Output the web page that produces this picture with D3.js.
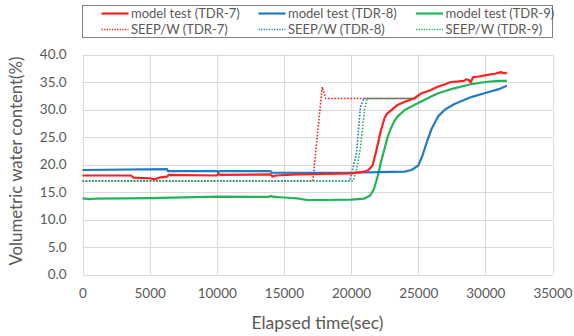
<!DOCTYPE html>
<html>
<head>
<meta charset="utf-8">
<script src="https://cdn.jsdelivr.net/npm/d3@7/dist/d3.min.js"></script>
<style>
  html, body { margin: 0; padding: 0; background: #fff; }
  svg { display: block; font-family: Lato, "Open Sans", sans-serif; }
</style>
</head>
<body>
<svg id="chart" width="574" height="336"></svg>
<script>
// ---- data ----
const xTicks = [0, 5000, 10000, 15000, 20000, 25000, 30000, 35000];
const yTicks = [0, 5, 10, 15, 20, 25, 30, 35, 40];

const tdr7Time = [0, 3600, 3800, 5000, 5400, 5700, 6300, 6400, 10000, 10100, 10300, 14000, 14150, 14400, 16000, 18000, 20000, 21000, 21300, 21600, 21830, 22200, 22500, 22700, 23450, 24000, 24700, 25200, 25900, 26400, 27000, 27430, 28000, 28400, 28600, 28800, 28900, 29100, 29500, 30160, 30700, 31160, 31400, 31600];
const tdr7Value = [18.0, 18.0, 17.6, 17.5, 17.3, 17.6, 17.8, 18.1, 18.0, 18.3, 18.1, 18.2, 17.8, 18.0, 18.2, 18.3, 18.4, 18.7, 19.0, 19.8, 22.0, 26.0, 28.5, 29.3, 30.8, 31.4, 32.0, 32.9, 33.5, 34.1, 34.6, 35.0, 35.1, 35.2, 35.5, 35.3, 34.9, 35.9, 36.0, 36.3, 36.5, 36.8, 36.6, 36.6];

const tdr8Time = [0, 6300, 6350, 10000, 10100, 10200, 14000, 14100, 20000, 22000, 24000, 24500, 25000, 25300, 25700, 26000, 26500, 27000, 27700, 28500, 29000, 30000, 31000, 31600];
const tdr8Value = [19.0, 19.15, 18.8, 18.8, 18.6, 18.8, 18.8, 18.5, 18.5, 18.6, 18.7, 19.0, 19.8, 21.5, 24.5, 26.5, 28.8, 30.0, 31.0, 31.8, 32.3, 33.0, 33.7, 34.3];

const tdr9Time = [0, 500, 1000, 5000, 10000, 13900, 14000, 14300, 15000, 16000, 16700, 18000, 20000, 21000, 21400, 21700, 22000, 22200, 22450, 22700, 22950, 23200, 23450, 24000, 24690, 25190, 25930, 26430, 27670, 28920, 30160, 31000, 31600];
const tdr9Value = [13.85, 13.7, 13.8, 13.9, 14.15, 14.1, 14.3, 14.1, 14.0, 13.85, 13.55, 13.55, 13.6, 13.8, 14.3, 15.5, 18.0, 20.2, 22.5, 24.8, 26.5, 27.8, 28.7, 29.9, 30.8, 31.4, 32.3, 32.9, 33.85, 34.6, 35.05, 35.2, 35.2];

const seep7Time = [0, 17150, 17850, 18100, 24700];
const seep7Value = [17.0, 17.0, 34.1, 32.0, 32.0];

const seep8Time = [0, 19900, 20100, 20400, 20700, 20950, 24700];
const seep8Value = [17.0, 17.0, 19.0, 22.0, 30.5, 32.0, 32.0];

const seep9Time = [0, 20150, 20400, 20700, 21000, 21200, 24700];
const seep9Value = [17.0, 17.0, 19.0, 23.0, 30.0, 32.0, 32.0];

const seriesNames = ["model test (TDR-7)", "model test (TDR-8)", "model test (TDR-9)", "SEEP/W (TDR-7)", "SEEP/W (TDR-8)", "SEEP/W (TDR-9)"];
const colors = ["#FF2020", "#2479C7", "#22B455", "#FF2020", "#2479C7", "#22B455"];

const xTitle = "Elapsed time(sec)";
const yTitle = "Volumetric water content(%)";

// ---- build ----
const series = [
  {name: seriesNames[3], t: seep7Time, v: seep7Value, color: colors[3], dotted: true},
  {name: seriesNames[4], t: seep8Time, v: seep8Value, color: colors[4], dotted: true},
  {name: seriesNames[5], t: seep9Time, v: seep9Value, color: colors[5], dotted: true},
  {name: seriesNames[2], t: tdr9Time, v: tdr9Value, color: colors[2], dotted: false},
  {name: seriesNames[1], t: tdr8Time, v: tdr8Value, color: colors[1], dotted: false},
  {name: seriesNames[0], t: tdr7Time, v: tdr7Value, color: colors[0], dotted: false}
];

const svg = d3.select("#chart");
const x = d3.scaleLinear().domain([0, 35000]).range([82.5, 552.5]);
const y = d3.scaleLinear().domain([0, 40]).range([274.5, 54.5]);

// gridlines
const grid = svg.append("g");
grid.selectAll("line.h").data(yTicks).join("line")
  .attr("x1", x(0)).attr("x2", x(35000))
  .attr("y1", d => Math.round(y(d)) + 0.5).attr("y2", d => Math.round(y(d)) + 0.5)
  .attr("stroke", "#D9D9D9").attr("stroke-width", 1);
grid.selectAll("line.v").data(xTicks).join("line")
  .attr("y1", y(0)).attr("y2", y(40))
  .attr("x1", d => Math.round(x(d)) + 0.5).attr("x2", d => Math.round(x(d)) + 0.5)
  .attr("stroke", "#D9D9D9").attr("stroke-width", 1);

// axes (labels only)
const xAxis = d3.axisBottom(x).tickValues(xTicks).tickSize(0).tickPadding(14).tickFormat(d3.format("d"));
const yAxis = d3.axisLeft(y).tickValues(yTicks).tickSize(0).tickPadding(16).tickFormat(d3.format(".1f"));
const gx = svg.append("g").attr("transform", `translate(0,${y(0)})`).call(xAxis);
const gy = svg.append("g").attr("transform", `translate(${x(0)},0)`).call(yAxis);
[gx, gy].forEach(g => {
  g.select(".domain").remove();
  g.selectAll("text").attr("fill", "#595959").attr("font-size", 13.5).attr("font-family", "Lato, sans-serif");
});

// lines
const line = d3.line().x(d => x(d[0])).y(d => y(d[1]));
series.forEach(s => {
  const pts = s.t.map((t, i) => [t, s.v[i]]);
  svg.append("path").datum(pts)
    .attr("d", line)
    .attr("fill", "none")
    .attr("stroke", s.color)
    .attr("stroke-width", s.dotted ? 1.6 : 2.2)
    .attr("stroke-dasharray", s.dotted ? "1.6,1.6" : null)
    .attr("stroke-linejoin", "round");
});

// axis titles
svg.append("text").attr("x", 317.5).attr("y", 328.5).attr("text-anchor", "middle")
  .attr("fill", "#595959").attr("font-size", 17.5).text(xTitle);
svg.append("text").attr("transform", "translate(22,161) rotate(-90)").attr("text-anchor", "middle")
  .attr("fill", "#595959").attr("font-size", 16.8).text(yTitle);

// legend
svg.append("rect").attr("x", 82.5).attr("y", 5.5).attr("width", 470).attr("height", 32)
  .attr("fill", "#fff").attr("stroke", "#808080").attr("stroke-width", 1);
const legendOrder = [
  {name: seriesNames[0], color: colors[0], dotted: false},
  {name: seriesNames[1], color: colors[1], dotted: false},
  {name: seriesNames[2], color: colors[2], dotted: false},
  {name: seriesNames[3], color: colors[3], dotted: true},
  {name: seriesNames[4], color: colors[4], dotted: true},
  {name: seriesNames[5], color: colors[5], dotted: true}
];
const colX = [101.5, 258.5, 416];
const rowY = [13.5, 29.5];
legendOrder.forEach((d, i) => {
  const cx = colX[i % 3], cy = rowY[Math.floor(i / 3)];
  svg.append("line").attr("x1", cx).attr("x2", cx + 27).attr("y1", cy).attr("y2", cy)
    .attr("stroke", d.color).attr("stroke-width", d.dotted ? 1.3 : 2.2)
    .attr("stroke-dasharray", d.dotted ? "1.3,1.3" : null);
  svg.append("text").attr("x", cx + 29.5).attr("y", cy).attr("dy", "0.35em")
    .attr("fill", "#595959").attr("font-size", 13).text(d.name);
});
</script>
</body>
</html>
